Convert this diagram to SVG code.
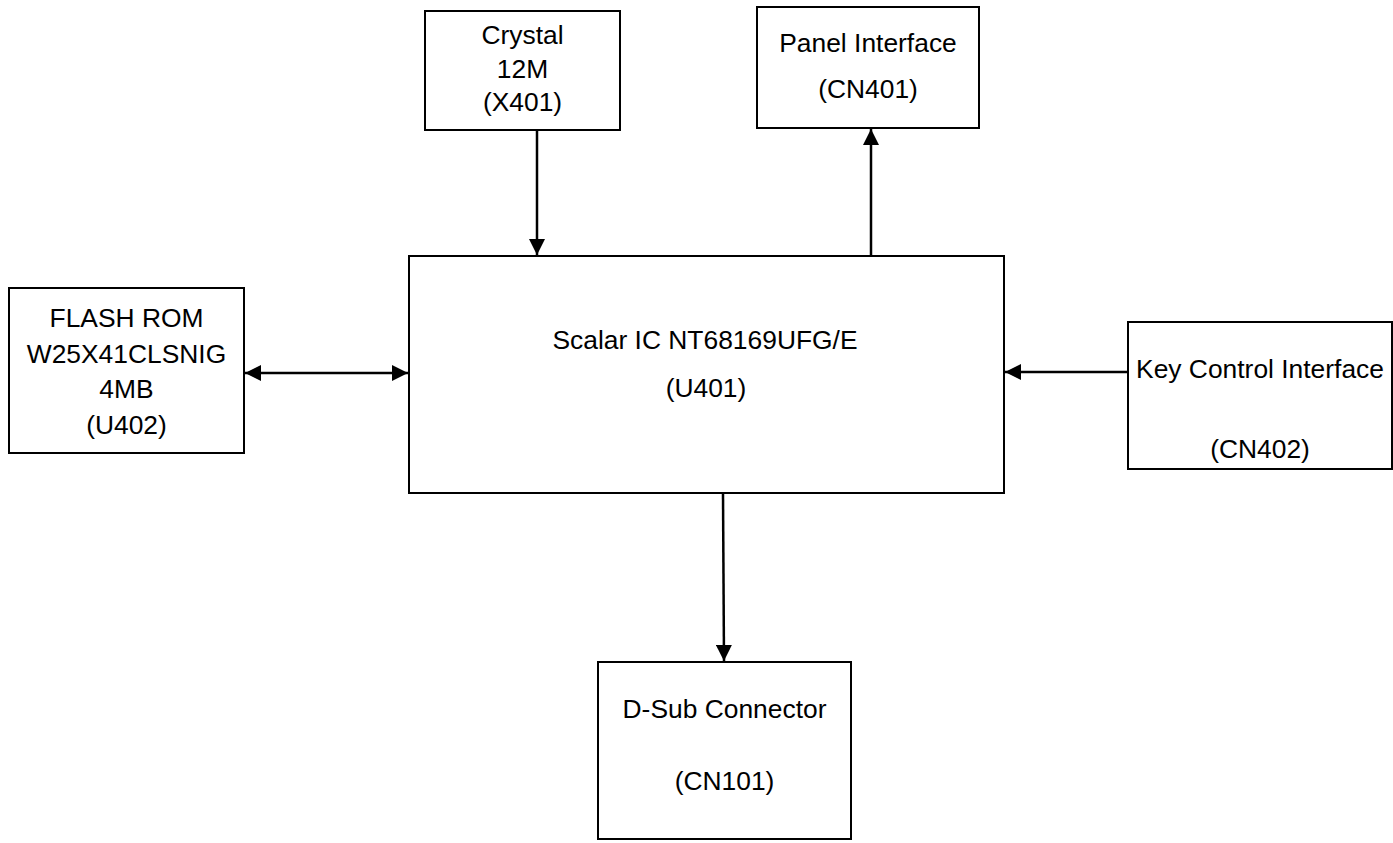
<svg xmlns="http://www.w3.org/2000/svg" width="1393" height="843" viewBox="0 0 1393 843">
<style>
.box{fill:#fff;stroke:#000;stroke-width:2}
.t{font-family:"Liberation Sans",Arial,sans-serif;font-size:26.4px;fill:#000;text-anchor:middle}
.c{stroke:#000;stroke-width:2.5;fill:none}
</style>
<defs>
<marker id="ah" markerUnits="userSpaceOnUse" markerWidth="16" markerHeight="16" viewBox="0 0 16 16" refX="16" refY="8" orient="auto-start-reverse">
<path d="M0,0 L16,8 L0,16 Z" fill="#000"/>
</marker>
</defs>
<rect width="1393" height="843" fill="#fff"/>
<g id="crystal">
<rect class="box" x="425" y="11" width="195" height="119"/>
<text class="t" x="522.5" y="44">Crystal</text>
<text class="t" x="522.5" y="78">12M</text>
<text class="t" x="522.5" y="111">(X401)</text>
</g>
<g id="panel">
<rect class="box" x="757" y="7" width="222" height="121"/>
<text class="t" x="868" y="52">Panel Interface</text>
<text class="t" x="868" y="98">(CN401)</text>
</g>
<g id="flash">
<rect class="box" x="9" y="288" width="235" height="165"/>
<text class="t" x="126.5" y="327">FLASH ROM</text>
<text class="t" x="126.5" y="363">W25X41CLSNIG</text>
<text class="t" x="126.5" y="398">4MB</text>
<text class="t" x="126.5" y="434">(U402)</text>
</g>
<g id="scalar">
<rect class="box" x="409" y="256" width="595" height="237"/>
<text class="t" x="705" y="349">Scalar IC NT68169UFG/E</text>
<text class="t" x="706" y="397">(U401)</text>
</g>
<g id="key">
<rect class="box" x="1128" y="322" width="264" height="147"/>
<text class="t" x="1260" y="378">Key Control Interface</text>
<text class="t" x="1260" y="458">(CN402)</text>
</g>
<g id="dsub">
<rect class="box" x="598" y="662" width="253" height="177"/>
<text class="t" x="724.5" y="718">D-Sub Connector</text>
<text class="t" x="724.5" y="790">(CN101)</text>
</g>
<g id="connectors">
<line class="c" x1="537" y1="131" x2="537" y2="255" marker-end="url(#ah)"/>
<line class="c" x1="871" y1="255" x2="871" y2="129" marker-end="url(#ah)"/>
<line class="c" x1="245" y1="373" x2="408" y2="373" marker-start="url(#ah)" marker-end="url(#ah)"/>
<line class="c" x1="1127" y1="372" x2="1005" y2="372" marker-end="url(#ah)"/>
<line class="c" x1="723" y1="494" x2="724" y2="661" marker-end="url(#ah)"/>
</g>
</svg>
